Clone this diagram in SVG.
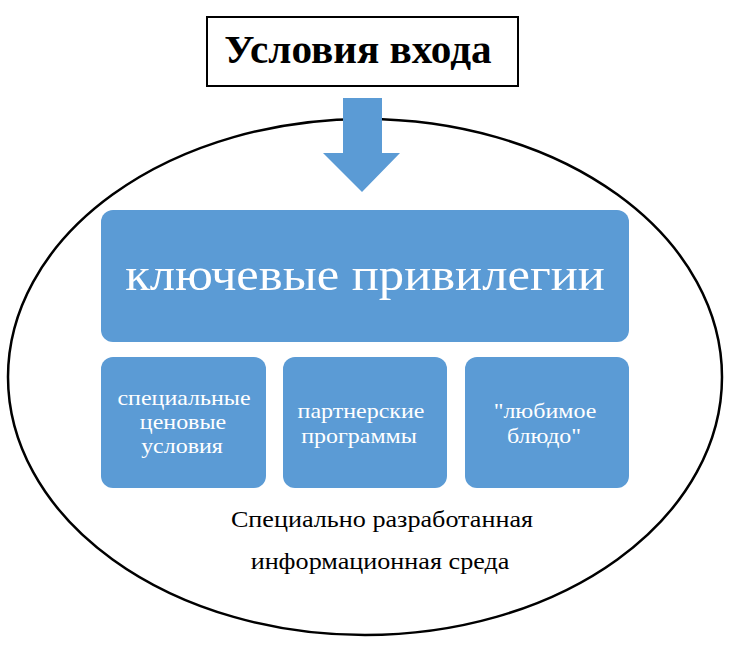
<svg xmlns="http://www.w3.org/2000/svg" width="745" height="652" viewBox="0 0 745 652" font-family="'Liberation Serif', 'Times New Roman', serif">
<style>
.box{fill:#5B9BD5}
.wt{fill:#fff;text-anchor:middle}
.bt{fill:#000;text-anchor:middle}
.sm{font-size:22px}
</style>
<rect width="745" height="652" fill="#fff"/>
<g id="environment">
<ellipse cx="365" cy="377" rx="357" ry="258" fill="none" stroke="#000" stroke-width="2.5"/>
<text class="bt" transform="translate(382,527) scale(1.09,1)" font-size="24">Специально разработанная</text>
<text class="bt" transform="translate(380,569) scale(1.09,1)" font-size="24">информационная среда</text>
</g>
<g id="entry">
<rect x="207" y="17" width="311" height="69" fill="#fff" stroke="#000" stroke-width="2"/>
<text class="bt" transform="translate(358,63) scale(1.03,1)" font-size="40" font-weight="bold">Условия входа</text>
</g>
<g id="connectors">
<polygon points="343,98 382,98 382,153 400,153 362,192 323,153 343,153" fill="#5B9BD5"/>
</g>
<g id="key">
<rect class="box" x="101" y="210" width="528" height="132" rx="12"/>
<text class="wt" transform="translate(365,290) scale(1.1,1)" font-size="46">ключевые привилегии</text>
</g>
<g id="price">
<rect class="box" x="101" y="357" width="165" height="131" rx="12"/>
<text class="wt sm" transform="translate(184,405) scale(1.09,1)">специальные</text>
<text class="wt sm" transform="translate(183,429) scale(1.09,1)">ценовые</text>
<text class="wt sm" transform="translate(182,453) scale(1.09,1)">условия</text>
</g>
<g id="partner">
<rect class="box" x="283" y="357" width="164" height="131" rx="12"/>
<text class="wt sm" transform="translate(361,418) scale(1.09,1)">партнерские</text>
<text class="wt sm" transform="translate(359,443) scale(1.09,1)">программы</text>
</g>
<g id="dish">
<rect class="box" x="465" y="357" width="164" height="131" rx="12"/>
<text class="wt sm" transform="translate(545,418) scale(1.09,1)">"любимое</text>
<text class="wt sm" transform="translate(544,443) scale(1.09,1)">блюдо"</text>
</g>
</svg>
